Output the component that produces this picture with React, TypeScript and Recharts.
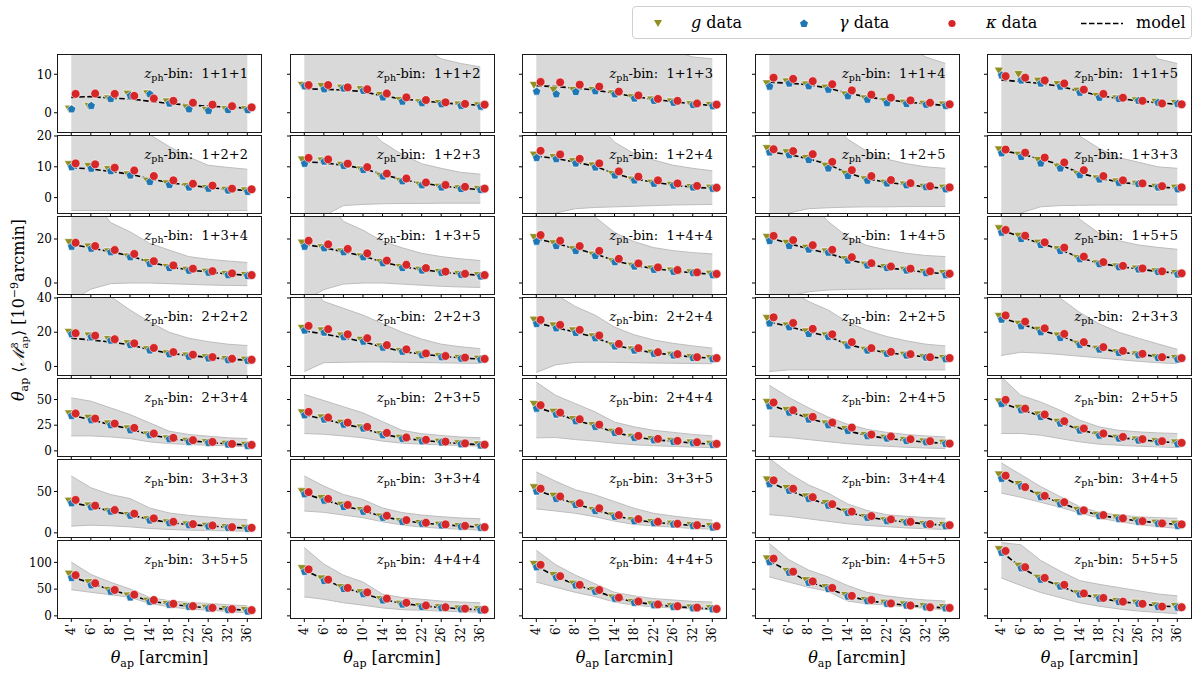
import React from 'react'
import { ComposedChart, Area, Line, Scatter, XAxis, YAxis } from 'recharts'

const thetaLabels = ["4'", "6'", "8'", "10'", "14'", "18'", "22'", "26'", "32'", "36'"]

const binLabels = [
  '1+1+1', '1+1+2', '1+1+3', '1+1+4', '1+1+5',
  '1+2+2', '1+2+3', '1+2+4', '1+2+5', '1+3+3',
  '1+3+4', '1+3+5', '1+4+4', '1+4+5', '1+5+5',
  '2+2+2', '2+2+3', '2+2+4', '2+2+5', '2+3+3',
  '2+3+4', '2+3+5', '2+4+4', '2+4+5', '2+5+5',
  '3+3+3', '3+3+4', '3+3+5', '3+4+4', '3+4+5',
  '3+5+5', '4+4+4', '4+4+5', '4+5+5', '5+5+5',
]

// shared y range and ticks per row of panels
const rowDomains = [[-5, 15], [-5, 20], [-5, 30], [-5, 40], [-5, 70], [-5, 88], [-4, 140]]
const rowTicks = [[0, 10], [0, 10, 20], [0, 20], [0, 20, 40], [0, 25, 50], [0, 50], [0, 50, 100]]

const gValues: number[][] = [
  [1.0, 1.7, 3.7, 4.9, 5.0, 2.9, 1.3, 0.7, 0.9, 0.9],
  [7.2, 6.9, 6.5, 6.1, 4.6, 3.3, 2.7, 2.5, 2.1, 1.9],
  [7.2, 5.9, 5.9, 5.9, 5.0, 4.0, 3.4, 2.9, 2.2, 2.0],
  [7.6, 8.1, 7.3, 6.5, 4.7, 3.7, 3.0, 2.6, 2.3, 2.1],
  [10.9, 10.0, 8.3, 7.4, 5.7, 4.3, 3.7, 3.2, 2.8, 2.5],
  [10.8, 10.2, 9.2, 7.5, 5.4, 4.6, 3.7, 3.1, 2.5, 2.3],
  [12.3, 12.0, 10.6, 9.1, 7.0, 5.4, 4.1, 3.5, 3.0, 2.8],
  [13.9, 13.1, 11.8, 10.4, 7.6, 5.8, 4.8, 4.1, 3.4, 3.2],
  [16.0, 14.7, 12.8, 10.3, 7.7, 5.9, 4.8, 4.2, 3.5, 3.2],
  [15.6, 13.9, 12.2, 10.0, 7.6, 6.2, 5.2, 4.5, 3.5, 3.2],
  [18.5, 16.5, 14.3, 12.0, 9.5, 7.2, 6.0, 5.1, 4.1, 3.6],
  [18.3, 16.2, 14.3, 12.0, 9.5, 7.2, 6.0, 5.0, 4.0, 3.5],
  [20.8, 18.0, 15.3, 12.8, 9.8, 7.8, 6.5, 5.6, 4.8, 4.2],
  [20.9, 18.2, 16.0, 14.3, 10.8, 8.3, 7.2, 6.0, 5.0, 4.5],
  [24.8, 21.4, 18.3, 15.3, 11.3, 8.9, 7.5, 6.5, 5.3, 4.5],
  [20.0, 18.0, 15.9, 13.5, 10.0, 7.6, 6.3, 5.3, 4.3, 3.9],
  [22.4, 21.0, 18.0, 15.5, 11.6, 9.0, 7.0, 6.0, 5.0, 4.5],
  [27.2, 23.9, 21.0, 17.5, 12.2, 9.9, 8.0, 6.8, 5.4, 4.9],
  [28.2, 23.9, 20.4, 18.1, 12.8, 9.7, 7.8, 6.8, 5.4, 4.9],
  [29.4, 24.9, 21.4, 18.0, 13.2, 10.3, 8.3, 7.0, 5.4, 4.9],
  [36.4, 32.1, 26.6, 21.8, 15.9, 12.0, 9.7, 8.4, 6.8, 5.8],
  [37.3, 32.5, 27.3, 22.7, 16.2, 12.7, 10.4, 8.8, 7.2, 6.2],
  [45.5, 38.0, 30.8, 25.0, 18.5, 13.6, 11.4, 9.7, 8.1, 6.8],
  [47.4, 39.6, 33.1, 26.6, 21.1, 15.3, 12.7, 10.4, 9.1, 7.8],
  [48.0, 41.9, 35.4, 28.2, 21.1, 15.9, 12.7, 11.0, 9.4, 8.1],
  [38.6, 32.9, 26.4, 21.5, 16.3, 12.6, 10.2, 8.5, 6.9, 6.1],
  [50.0, 41.9, 33.7, 27.6, 19.5, 14.2, 11.8, 9.8, 8.2, 7.1],
  [54.9, 44.7, 35.0, 27.6, 20.7, 15.4, 13.0, 11.0, 9.3, 8.1],
  [64.2, 54.1, 43.9, 35.8, 25.6, 19.1, 15.0, 13.0, 10.6, 9.3],
  [70.3, 58.9, 45.9, 37.0, 27.6, 21.5, 18.3, 15.0, 12.2, 11.0],
  [78.6, 62.9, 48.4, 37.7, 28.3, 22.0, 18.2, 15.1, 12.6, 10.7],
  [89.0, 69.7, 53.5, 43.9, 31.0, 22.6, 18.0, 16.1, 13.5, 12.3],
  [96.8, 76.1, 60.0, 48.4, 34.2, 25.8, 21.3, 18.1, 15.5, 14.2],
  [107.0, 83.9, 66.5, 53.5, 38.7, 29.7, 24.5, 21.3, 18.1, 16.1],
  [124.5, 93.5, 71.0, 56.8, 41.9, 34.2, 27.7, 24.5, 19.4, 18.1],
]

const gammaValues: number[][] = [
  [0.9, 1.8, 3.6, 4.4, 4.8, 2.4, 0.9, 0.5, 0.7, 0.7],
  [6.9, 6.1, 6.3, 5.7, 4.0, 2.9, 2.5, 2.2, 1.8, 1.6],
  [5.5, 4.8, 5.4, 5.6, 4.8, 3.7, 3.1, 2.6, 2.0, 1.7],
  [6.8, 7.6, 6.9, 6.0, 4.3, 3.4, 2.5, 2.3, 2.1, 1.8],
  [9.7, 8.4, 7.6, 6.8, 5.2, 3.9, 3.6, 3.1, 2.6, 2.3],
  [9.9, 9.4, 8.6, 7.2, 5.1, 4.1, 3.3, 2.9, 2.3, 1.9],
  [11.0, 11.7, 10.3, 9.0, 6.9, 5.3, 4.0, 3.3, 2.8, 2.5],
  [12.9, 12.5, 11.1, 9.8, 7.2, 5.6, 4.5, 3.9, 3.3, 2.9],
  [14.7, 13.8, 12.2, 9.5, 7.0, 5.5, 4.6, 4.0, 3.4, 2.7],
  [14.4, 13.2, 11.1, 9.5, 7.3, 5.9, 4.8, 4.4, 3.3, 2.7],
  [16.5, 15.6, 14.0, 11.7, 8.7, 6.8, 5.6, 4.7, 3.6, 3.2],
  [16.5, 15.8, 14.0, 11.7, 9.0, 6.8, 5.7, 4.6, 3.7, 3.0],
  [18.8, 16.8, 14.6, 12.3, 9.5, 7.5, 6.0, 5.1, 4.5, 3.6],
  [19.1, 16.8, 15.2, 13.8, 10.2, 8.0, 6.8, 5.7, 4.5, 3.6],
  [22.9, 20.0, 17.3, 14.6, 10.8, 8.6, 7.2, 6.2, 5.0, 3.9],
  [18.8, 17.1, 15.1, 12.5, 9.4, 7.1, 5.7, 4.7, 3.7, 3.3],
  [21.0, 19.8, 17.1, 14.5, 11.0, 8.6, 6.6, 5.4, 4.6, 4.0],
  [24.9, 22.3, 19.6, 16.5, 11.7, 9.3, 7.4, 6.4, 5.0, 4.3],
  [25.2, 22.9, 19.0, 17.3, 12.2, 9.3, 7.4, 6.4, 5.2, 4.3],
  [27.4, 23.5, 20.0, 16.7, 12.6, 9.9, 7.9, 6.6, 5.0, 4.1],
  [34.1, 29.9, 25.0, 20.1, 15.3, 11.4, 8.8, 7.8, 6.2, 4.9],
  [34.7, 30.5, 25.6, 21.8, 15.3, 11.7, 9.4, 8.2, 6.5, 5.2],
  [41.2, 35.4, 28.9, 23.4, 17.5, 12.7, 10.4, 8.8, 7.5, 5.8],
  [43.5, 37.3, 30.5, 25.0, 19.5, 14.3, 12.0, 9.7, 8.4, 6.8],
  [45.8, 39.6, 33.1, 26.6, 19.8, 14.9, 12.0, 10.1, 8.4, 6.5],
  [35.8, 30.9, 25.6, 20.7, 15.0, 11.8, 9.3, 7.7, 6.1, 4.9],
  [46.7, 39.0, 31.3, 25.6, 18.3, 13.4, 11.0, 9.0, 7.5, 6.1],
  [50.0, 41.1, 33.7, 26.4, 19.5, 14.2, 11.8, 10.2, 8.5, 6.5],
  [58.9, 50.8, 41.1, 32.9, 24.0, 18.3, 14.2, 12.6, 9.8, 8.1],
  [65.4, 56.1, 43.1, 34.6, 25.6, 20.3, 16.7, 13.4, 11.0, 8.5],
  [71.1, 57.2, 45.3, 34.6, 26.4, 20.8, 17.0, 13.8, 11.3, 8.2],
  [82.6, 65.2, 50.3, 40.6, 29.0, 21.3, 16.8, 14.8, 12.3, 10.3],
  [91.0, 71.6, 56.8, 45.2, 32.3, 24.5, 20.0, 16.8, 14.2, 12.3],
  [100.6, 80.6, 61.9, 50.3, 36.1, 27.7, 22.6, 19.4, 16.1, 14.2],
  [118.0, 89.0, 67.7, 54.8, 40.0, 32.3, 25.8, 22.6, 16.8, 15.5],
]

const kappaValues: number[][] = [
  [4.9, 5.0, 4.9, 4.4, 3.7, 3.1, 2.6, 2.1, 1.7, 1.4],
  [7.2, 7.2, 6.6, 6.1, 5.0, 4.0, 3.3, 2.7, 2.3, 2.1],
  [8.0, 7.9, 7.3, 6.8, 5.5, 4.5, 3.6, 3.1, 2.4, 2.1],
  [9.1, 8.8, 8.2, 7.4, 5.8, 4.7, 3.9, 3.2, 2.6, 2.2],
  [9.5, 9.1, 8.4, 7.6, 6.0, 4.9, 3.9, 3.1, 2.4, 2.2],
  [11.1, 10.8, 9.7, 8.8, 7.0, 5.6, 4.5, 3.9, 2.9, 2.7],
  [12.9, 12.4, 11.0, 9.9, 7.8, 6.2, 4.9, 4.1, 3.5, 2.9],
  [15.2, 14.0, 12.6, 11.1, 8.5, 6.8, 5.6, 4.6, 3.8, 3.2],
  [15.7, 15.1, 14.1, 11.6, 8.9, 7.0, 5.7, 4.7, 3.7, 3.3],
  [15.6, 14.6, 13.0, 11.4, 8.9, 7.0, 5.6, 4.6, 3.7, 3.3],
  [18.3, 16.8, 15.0, 13.2, 9.9, 8.0, 6.5, 5.4, 4.4, 3.6],
  [19.2, 17.6, 15.5, 13.5, 10.2, 8.3, 6.8, 5.2, 4.2, 3.6],
  [21.8, 19.2, 16.8, 14.6, 11.0, 8.9, 7.1, 5.9, 4.8, 4.1],
  [21.4, 19.5, 17.2, 15.1, 11.7, 9.0, 7.5, 6.5, 5.3, 4.2],
  [24.1, 21.5, 18.5, 16.1, 12.0, 9.5, 7.8, 6.6, 5.3, 4.4],
  [19.4, 18.0, 15.9, 13.5, 10.8, 8.4, 6.9, 5.5, 4.5, 3.9],
  [23.7, 21.8, 18.8, 16.5, 12.5, 10.0, 7.6, 6.1, 5.2, 4.4],
  [27.2, 24.3, 21.4, 18.1, 13.2, 10.7, 8.3, 7.2, 5.4, 4.9],
  [28.7, 25.4, 22.0, 18.8, 14.2, 10.7, 8.5, 7.2, 5.4, 4.9],
  [29.8, 26.2, 22.3, 19.0, 14.2, 11.3, 9.1, 7.4, 5.4, 4.9],
  [36.4, 31.5, 26.6, 22.4, 16.9, 12.7, 10.4, 8.8, 6.8, 5.8],
  [38.0, 32.5, 27.6, 23.4, 17.5, 13.0, 10.8, 9.0, 7.3, 6.0],
  [44.5, 37.3, 30.8, 25.6, 19.2, 14.6, 11.7, 9.7, 8.4, 6.8],
  [47.1, 39.6, 33.1, 27.6, 22.7, 15.9, 14.0, 11.4, 9.4, 7.1],
  [49.7, 41.2, 35.4, 28.9, 21.8, 16.9, 13.6, 11.4, 9.4, 7.8],
  [39.8, 32.9, 27.6, 23.2, 17.5, 13.4, 10.6, 8.9, 6.9, 6.1],
  [49.2, 41.1, 33.7, 28.5, 20.7, 15.4, 12.2, 10.2, 8.5, 7.0],
  [53.3, 43.9, 35.8, 29.7, 21.5, 16.7, 13.4, 11.0, 9.3, 8.1],
  [63.4, 53.3, 43.1, 34.6, 25.6, 20.3, 16.3, 13.4, 10.6, 9.3],
  [69.1, 55.3, 44.7, 37.0, 27.2, 21.5, 17.5, 14.2, 11.4, 10.2],
  [76.1, 61.0, 48.4, 39.6, 29.6, 22.6, 18.2, 15.1, 12.6, 10.7],
  [87.0, 67.7, 52.3, 43.9, 32.3, 24.5, 19.4, 16.1, 13.5, 11.6],
  [95.5, 74.2, 58.0, 48.4, 34.2, 27.1, 21.3, 18.1, 15.5, 12.9],
  [107.0, 82.6, 64.5, 52.3, 37.4, 29.7, 23.2, 19.4, 16.1, 14.8],
  [121.3, 91.0, 71.0, 58.1, 41.9, 33.5, 26.5, 22.6, 17.4, 16.1],
]

const modelValues: number[][] = [
  [4.0, 4.2, 3.8, 3.6, 3.0, 2.4, 2.0, 1.7, 1.5, 1.2],
  [6.2, 6.1, 5.9, 5.5, 4.4, 3.6, 3.1, 2.6, 2.2, 2.0],
  [7.0, 6.8, 6.4, 5.9, 5.1, 4.2, 3.5, 2.9, 2.3, 1.9],
  [7.9, 7.7, 7.3, 6.4, 5.1, 4.1, 3.4, 2.8, 2.3, 1.9],
  [8.5, 8.1, 7.6, 6.9, 5.6, 4.5, 3.7, 3.1, 2.6, 2.2],
  [9.7, 9.3, 8.5, 7.6, 6.1, 4.9, 4.0, 3.3, 2.7, 2.3],
  [11.6, 11.3, 10.5, 9.5, 7.5, 5.9, 4.7, 3.8, 3.1, 2.6],
  [13.5, 12.7, 11.5, 10.2, 7.8, 6.1, 5.0, 4.1, 3.4, 3.0],
  [14.8, 14.0, 12.6, 10.8, 8.0, 6.1, 5.0, 4.2, 3.5, 3.0],
  [15.2, 14.2, 12.5, 10.7, 8.0, 6.3, 5.1, 4.3, 3.5, 3.0],
  [17.5, 16.0, 14.2, 12.4, 9.6, 7.4, 6.0, 5.0, 4.1, 3.5],
  [17.6, 16.1, 14.2, 12.3, 9.6, 7.5, 6.1, 5.0, 4.1, 3.5],
  [20.2, 18.0, 15.6, 13.3, 10.2, 8.0, 6.6, 5.5, 4.6, 4.0],
  [20.5, 18.0, 15.5, 13.5, 10.8, 8.5, 7.0, 5.9, 4.9, 4.2],
  [24.0, 21.0, 18.0, 15.3, 11.5, 9.0, 7.5, 6.4, 5.2, 4.5],
  [16.5, 15.5, 14.3, 12.7, 9.8, 7.8, 6.4, 5.3, 4.3, 3.7],
  [20.8, 19.0, 16.8, 14.5, 11.3, 8.8, 7.2, 6.0, 5.0, 4.3],
  [25.5, 22.8, 20.0, 17.0, 12.5, 9.8, 8.0, 6.7, 5.5, 4.8],
  [26.0, 23.3, 20.3, 17.5, 13.0, 10.0, 8.1, 6.8, 5.6, 4.8],
  [28.5, 24.8, 21.3, 18.0, 13.5, 10.5, 8.5, 7.1, 5.8, 5.0],
  [34.5, 30.5, 25.5, 21.3, 15.8, 12.2, 9.9, 8.3, 6.8, 5.8],
  [35.0, 31.0, 26.3, 22.0, 16.3, 12.5, 10.2, 8.6, 7.0, 6.0],
  [42.5, 36.5, 30.0, 24.6, 18.0, 13.7, 11.0, 9.3, 7.7, 6.5],
  [45.0, 38.5, 32.0, 26.2, 19.5, 15.0, 12.2, 10.2, 8.5, 7.3],
  [46.5, 40.5, 34.0, 27.8, 20.7, 16.0, 13.0, 11.0, 9.2, 7.8],
  [36.5, 32.0, 26.5, 22.0, 16.3, 12.5, 10.0, 8.4, 6.9, 5.8],
  [47.5, 40.0, 32.8, 26.8, 19.8, 15.0, 12.0, 10.0, 8.3, 7.0],
  [52.0, 43.0, 35.0, 28.0, 20.8, 15.8, 12.8, 10.7, 9.0, 7.6],
  [61.0, 51.5, 42.0, 34.0, 25.0, 19.2, 15.5, 13.0, 10.8, 9.3],
  [68.0, 56.5, 45.5, 36.5, 27.8, 21.5, 17.5, 14.6, 12.0, 10.3],
  [73.0, 61.5, 49.0, 38.5, 28.5, 22.0, 18.0, 15.0, 12.5, 10.6],
  [86.0, 68.0, 53.0, 42.0, 31.0, 23.5, 18.8, 15.8, 13.2, 11.3],
  [93.0, 73.5, 58.5, 47.0, 34.5, 26.2, 21.2, 17.8, 15.0, 13.0],
  [103.0, 83.0, 64.5, 51.5, 37.5, 28.8, 23.5, 20.0, 17.0, 15.0],
  [120.0, 91.0, 70.0, 56.0, 41.5, 33.0, 27.0, 23.0, 19.0, 16.5],
]

// grey uncertainty band (lower / upper edge)
const bandLow: number[][] = [
  [-12, -12, -12, -12, -12, -12, -12, -12, -12, -12],
  [-12, -12, -12, -12, -12, -12, -12, -12, -12, -12],
  [-12, -12, -12, -12, -12, -12, -12, -12, -12, -12],
  [-12, -12, -12, -12, -12, -12, -12, -12, -12, -12],
  [-12, -12, -12, -12, -12, -12, -12, -12, -12, -12],
  [-4.2, -4.2, -4.2, -4.2, -4.2, -4.2, -4.2, -4.2, -4.2, -4.2],
  [-10, -6, -2.6, -2.2, -2.0, -1.9, -1.9, -1.8, -1.8, -1.8],
  [-10, -5, -3.6, -3.2, -3.0, -2.8, -2.6, -2.4, -2.3, -2.2],
  [-10, -5, -3.6, -3.3, -3.1, -3.0, -3.0, -2.9, -2.9, -2.9],
  [-10, -5, -3.0, -2.6, -2.5, -2.4, -2.4, -2.4, -2.4, -2.4],
  [-8, -2.8, -0.3, 0, 0, -0.3, -0.6, -0.9, -1.1, -1.2],
  [-8, -3, -0.5, 0, 0, -0.5, -1.0, -1.5, -1.8, -2.0],
  [-12, -12, -12, -12, -12, -12, -12, -12, -12, -12],
  [-10, -6, -4, -3.2, -2.9, -2.8, -2.7, -2.7, -2.7, -2.7],
  [-12, -12, -12, -12, -12, -12, -12, -12, -12, -12],
  [-12, -12, -12, -12, -12, -12, -12, -12, -12, -12],
  [-3, 2.2, 2.4, 2.6, 2.6, 2.5, 2.3, 2.1, 1.9, 1.8],
  [-3.5, 1.0, 2.4, 2.5, 2.4, 2.2, 2.0, 1.9, 1.7, 1.6],
  [-3, -2, -2, -2, -2, -2, -2, -2, -2, -2],
  [6.4, 8.3, 7.8, 7.0, 6.0, 5.0, 4.0, 3.0, 2.2, 1.6],
  [14.6, 14.6, 13.6, 12.0, 8.8, 7.1, 6.2, 5.5, 4.9, 3.9],
  [16.9, 16.2, 14.6, 12.7, 9.5, 7.5, 6.5, 5.8, 5.2, 4.5],
  [12.7, 13.0, 11.0, 9.5, 7.5, 6.0, 5.0, 4.3, 3.7, 3.2],
  [14.0, 13.0, 11.0, 9.0, 7.0, 5.5, 4.5, 3.5, 2.8, 2.3],
  [16.9, 16.9, 15.3, 12.0, 8.8, 6.5, 5.5, 4.5, 3.9, 3.2],
  [8.1, 9.3, 8.5, 7.3, 5.3, 4.1, 3.3, 2.8, 2.4, 2.0],
  [26.4, 24.8, 21.5, 18.3, 13.4, 9.5, 7.0, 5.5, 4.3, 3.3],
  [28.9, 26.4, 23.6, 19.5, 14.2, 10.2, 8.5, 6.9, 5.3, 4.5],
  [22.0, 20.0, 17.0, 14.0, 11.0, 9.0, 7.5, 6.0, 5.0, 4.1],
  [48.0, 43.0, 37.0, 31.0, 24.0, 18.0, 13.5, 10.0, 7.5, 5.5],
  [49.0, 44.0, 39.6, 34.6, 23.3, 17.0, 12.6, 10.7, 8.2, 5.7],
  [35.5, 31.0, 24.5, 20.0, 14.8, 11.6, 10.3, 9.0, 7.7, 7.1],
  [63.2, 53.5, 43.9, 36.1, 25.8, 20.0, 16.8, 14.8, 12.9, 11.6],
  [72.9, 63.2, 53.5, 45.8, 27.7, 22.6, 20.0, 16.8, 14.2, 11.6],
  [71.0, 56.8, 43.9, 34.2, 24.5, 18.1, 12.9, 9.0, 6.5, 3.9],
]

const bandHigh: number[][] = [
  [30, 30, 30, 30, 30, 30, 30, 30, 30, 30],
  [30, 30, 30, 30, 30, 22, 17, 14, 12.8, 11.9],
  [30, 30, 30, 30, 30, 22, 18, 16, 14.5, 14],
  [30, 30, 30, 30, 30, 30, 30, 17, 14.5, 12.8],
  [30, 30, 30, 30, 30, 30, 30, 20, 14, 12.8],
  [30, 30, 30, 30, 20.5, 16.6, 13.2, 10.5, 9.8, 9.2],
  [30, 30, 30, 24, 18, 14, 11, 9.5, 8.2, 7.6],
  [30, 30, 30, 25, 18, 14.3, 12.2, 10.5, 9.5, 8.7],
  [30, 30, 30, 26, 19, 15, 12.5, 11, 10, 9.5],
  [30, 30, 30, 28, 20, 16, 13, 11.5, 10, 9.5],
  [40, 40, 27.5, 23.3, 18, 15, 12, 10.8, 10, 9.3],
  [40, 40, 28, 24, 19, 16, 13.5, 12, 11, 10.2],
  [40, 40, 40, 30, 23, 18.8, 16.1, 14.7, 13.8, 13.2],
  [40, 40, 38, 28, 21, 17, 15, 13.5, 12.5, 12],
  [40, 40, 40, 40, 29, 22.6, 19.2, 17.3, 16.2, 15.3],
  [50, 50, 41, 33, 26, 20, 16.5, 14.5, 13, 12.2],
  [50, 38, 34, 30, 25, 20, 16, 13, 11.5, 10.4],
  [45, 42, 35, 30, 23, 18.5, 15.5, 13.5, 12, 10.7],
  [45, 45, 38, 33, 26, 21, 17.5, 15, 13, 12],
  [50, 50, 50, 40, 31.6, 24.9, 20, 16.5, 13.2, 10],
  [51.6, 48.4, 41.9, 35.4, 27.3, 19.2, 15.9, 14.3, 12.7, 12.0],
  [54.9, 49, 43, 37, 28.5, 20, 16.7, 15, 13.5, 12.8],
  [67, 54, 46, 38, 28, 23.4, 20, 18, 16, 14.6],
  [64, 52, 42, 33, 26, 21, 18, 16, 14.5, 13.6],
  [72, 54, 47.7, 39.6, 29.9, 23.4, 20, 18.5, 17.5, 16.9],
  [68.7, 54.5, 46.3, 41.5, 30.1, 24, 21.1, 19.1, 17.1, 15.9],
  [68.7, 56.5, 46.3, 40.2, 30, 24.5, 21.5, 19.5, 18, 17],
  [73.6, 62.2, 52, 45.9, 37.8, 29.7, 23.6, 20.3, 17.5, 15.4],
  [90, 72, 58, 48, 35, 27, 22, 20, 18.5, 17.5],
  [84.5, 70.3, 56.1, 43.9, 31.7, 24.8, 21.5, 19.5, 18.3, 17.5],
  [100.6, 77.4, 62.9, 50.3, 34.6, 28.3, 25.2, 23.3, 20.8, 18.9],
  [127.7, 96.8, 76.1, 63.2, 40.6, 34.2, 31, 27.7, 25.8, 24.5],
  [122.6, 95.5, 76.1, 60, 43.9, 37.4, 32.3, 29.7, 27.1, 25.8],
  [135.5, 105, 85.8, 72.9, 56.8, 43.9, 37.4, 32.9, 29.7, 27.7],
  [137, 133, 104, 84, 66, 59, 53, 47, 41, 37.4],
]

const OLIVE = '#8f8f22'
const BLUE = '#1f77b4'
const RED = '#d62728'
const SERIF = "'DejaVu Serif', 'Liberation Serif', serif"

// layout of the 7 x 5 grid
const COL_LEFT = [58, 290.5, 523, 755.5, 988]
const ROW_TOP0 = 55
const ROW_STEP = 81
const PW = 203
const PH = 77
const AXIS_W = 46
const PAD_T = 8
const PAD_R = 8
const X_DOMAIN = [-0.68, 9.7]
const X_TICKS = thetaLabels.map((_, i) => i)

const Blank = () => <g />

const ThetaTick = (props: any) => {
  const { x, y, payload } = props
  return (
    <text x={x} y={y} transform={`rotate(-90 ${x} ${y})`} textAnchor="end" dominantBaseline="central"
      fontSize={12} fontFamily={SERIF} fill="#000">
      {thetaLabels[payload.value]}
    </text>
  )
}

const TriangleDown = (props: any) => {
  const { cx, cy } = props
  if (cx == null || cy == null) return <g />
  return <path d={`M${cx - 4.6},${cy - 3.6}L${cx + 4.6},${cy - 3.6}L${cx},${cy + 4.4}Z`} fill={OLIVE} stroke="#fff" strokeWidth={0.6} />
}

const Pentagon = (props: any) => {
  const { cx, cy } = props
  if (cx == null || cy == null) return <g />
  const pts = [0, 1, 2, 3, 4].map((k) => {
    const a = -Math.PI / 2 + (k * 2 * Math.PI) / 5
    return `${cx + 4.4 * Math.cos(a)},${cy + 4.4 * Math.sin(a)}`
  }).join(' ')
  return <polygon points={pts} fill={BLUE} stroke="#fff" strokeWidth={0.6} />
}

const Dot = (props: any) => {
  const { cx, cy } = props
  if (cx == null || cy == null) return <g />
  return <circle cx={cx} cy={cy} r={4.4} fill={RED} stroke="#fff" strokeWidth={0.6} />
}

const Panel = ({ index }: { index: number }) => {
  const row = Math.floor(index / 5)
  const col = index % 5
  const isBottom = row === 6
  const axisH = isBottom ? 44 : 6
  const top = ROW_TOP0 + row * ROW_STEP
  const left = COL_LEFT[col]
  const rows = thetaLabels.map((_, i) => ({
    x: i,
    model: modelValues[index][i],
    band: [bandLow[index][i], bandHigh[index][i]],
  }))
  const pts = (vals: number[], shift: number) => vals.map((y, i) => ({ x: i + shift, y }))

  return (
    <>
      <div style={{ position: 'absolute', left: left - AXIS_W, top: top - PAD_T }}>
        <ComposedChart width={AXIS_W + PW + PAD_R} height={PAD_T + PH + axisH} data={rows}
          margin={{ top: PAD_T, right: PAD_R, bottom: 0, left: 0 }}>
          <XAxis type="number" dataKey="x" domain={X_DOMAIN} ticks={X_TICKS} allowDataOverflow interval={0}
            height={axisH} axisLine={false} tickSize={4} tickLine={{ stroke: '#000' }}
            tick={isBottom ? ThetaTick : Blank} />
          <YAxis type="number" domain={rowDomains[row]} ticks={rowTicks[row]} allowDataOverflow interval={0}
            width={AXIS_W} axisLine={false} tickSize={4} tickLine={{ stroke: '#000' }}
            tick={col === 0 ? { fontSize: 12, fill: '#000', fontFamily: SERIF } : Blank} />
          <Area type="linear" dataKey="band" fill="#d9d9d9" fillOpacity={1} stroke="#bdbdbd" strokeWidth={1}
            isAnimationActive={false} />
          <Scatter data={pts(gValues[index], -0.12)} dataKey="y" shape={TriangleDown} isAnimationActive={false} />
          <Scatter data={pts(gammaValues[index], 0.02)} dataKey="y" shape={Pentagon} isAnimationActive={false} />
          <Scatter data={pts(kappaValues[index], 0.22)} dataKey="y" shape={Dot} isAnimationActive={false} />
          <Line type="linear" dataKey="model" stroke="#000" strokeWidth={1.6} strokeDasharray="5.5 2.5"
            dot={false} isAnimationActive={false} />
        </ComposedChart>
      </div>
      <div style={{
        position: 'absolute', left: left - 1, top: top - 1, width: PW + 2, height: PH + 2,
        border: '1px solid #1a1a1a', boxSizing: 'border-box', pointerEvents: 'none',
      }} />
      <div style={{
        position: 'absolute', left, top: top + 12, width: PW - 13, textAlign: 'right',
        fontSize: 13, lineHeight: '14px', whiteSpace: 'nowrap',
      }}>
        <i>z</i><span style={{ fontSize: 9.5, position: 'relative', top: 3 }}>ph</span>-bin:&nbsp; {binLabels[index]}
      </div>
    </>
  )
}

const LegendBox = () => (
  <div style={{
    position: 'absolute', left: 632, top: 6, width: 560, height: 33, boxSizing: 'border-box',
    border: '1px solid #d0d0d0', borderRadius: 4, background: '#fff', fontSize: 16,
  }}>
    <svg width={560} height={33} style={{ position: 'absolute', left: 0, top: 0 }}>
      <path d="M21,13 L29,13 L25,20 Z" fill={OLIVE} />
      <polygon points="171,12.5 175,15.4 173.5,20 168.5,20 167,15.4" fill={BLUE} />
      <circle cx={319} cy={16.5} r={3.6} fill={RED} />
      <line x1={448} x2={490} y1={16.5} y2={16.5} stroke="#000" strokeWidth={1.6} strokeDasharray="5.5 2.5" />
    </svg>
    <span style={{ position: 'absolute', left: 58, top: 6 }}><i>g</i> data</span>
    <span style={{ position: 'absolute', left: 206, top: 6 }}><i>γ</i> data</span>
    <span style={{ position: 'absolute', left: 353, top: 6 }}><i>κ</i> data</span>
    <span style={{ position: 'absolute', left: 503, top: 6 }}>model</span>
  </div>
)

export default function App() {
  return (
    <div style={{
      position: 'absolute', left: 0, top: 0, width: 1200, height: 677, overflow: 'hidden',
      background: '#fff', fontFamily: SERIF, color: '#000',
    }}>
      {binLabels.map((_, i) => <Panel key={i} index={i} />)}
      {COL_LEFT.map((x, c) => (
        <div key={c} style={{
          position: 'absolute', left: x, top: 648, width: PW, textAlign: 'center', fontSize: 16, whiteSpace: 'nowrap',
        }}>
          <i>θ</i><span style={{ fontSize: 11, position: 'relative', top: 4 }}>ap</span> [arcmin]
        </div>
      ))}
      <div style={{
        position: 'absolute', left: 18, top: 310, transform: 'translate(-50%, -50%) rotate(-90deg)',
        fontSize: 16, whiteSpace: 'nowrap',
      }}>
        <i>θ</i><span style={{ fontSize: 11, position: 'relative', top: 4 }}>ap</span>
        {' '}⟨<i>ℳ</i>
        <span style={{ display: 'inline-flex', flexDirection: 'column', fontSize: 10, lineHeight: '10px', verticalAlign: 'middle' }}>
          <span>3</span><span>ap</span>
        </span>⟩ [10<span style={{ fontSize: 11, position: 'relative', top: -6 }}>−9</span>arcmin]
      </div>
      <LegendBox />
    </div>
  )
}
